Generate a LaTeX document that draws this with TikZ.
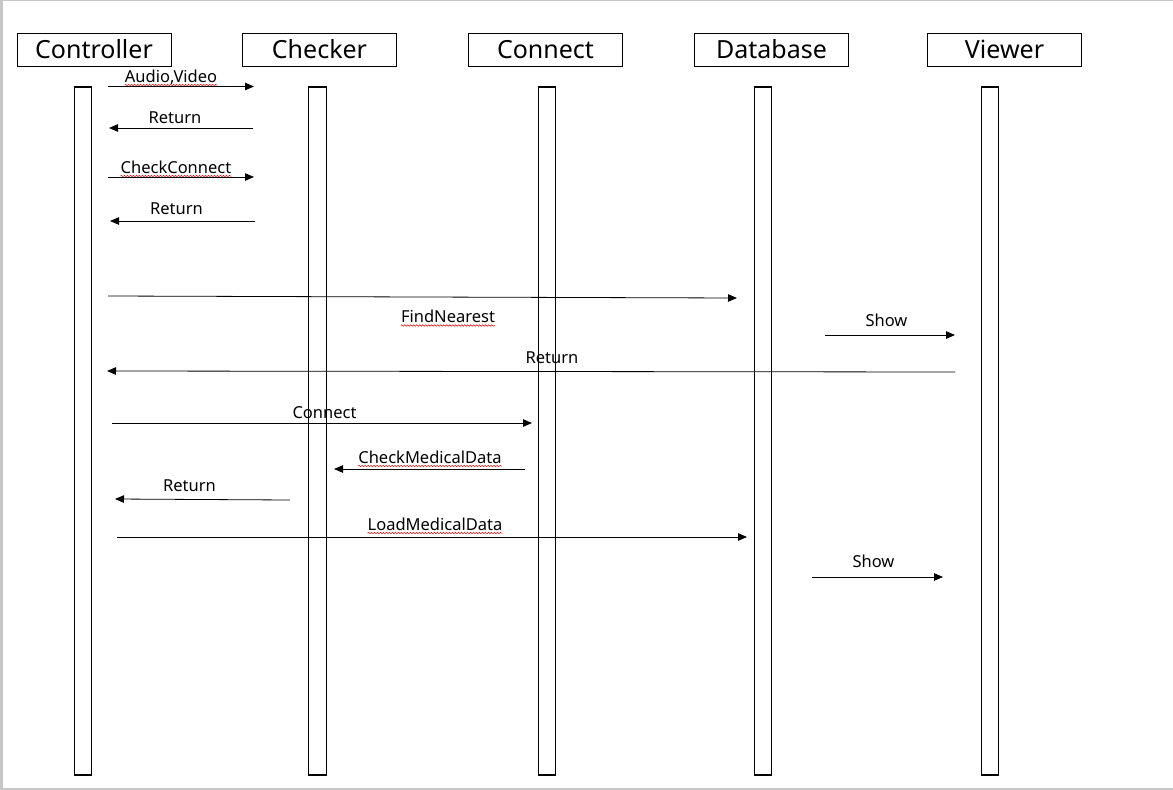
\documentclass[tikz,border=0pt]{standalone}
\usepackage{fontspec}
\setmainfont{Noto Sans}
\usetikzlibrary{arrows.meta,decorations.pathmorphing}
\tikzset{
  x=1pt,y=-1pt,
  head/.style={draw,line width=0.8pt,minimum width=154pt,minimum height=33pt,inner sep=0pt,font=\fontsize{25}{27}\selectfont},
  life/.style={draw,line width=1.1pt,minimum width=17.5pt,minimum height=688pt,inner sep=0pt},
  msg/.style={line width=0.8pt,-{Triangle[length=9pt,width=7.5pt]}},
  lbl/.style={anchor=base,inner sep=0pt,font=\fontsize{16.5}{18}\selectfont},
  spell/.style={red!85!black,line width=0.5pt,decorate,decoration={snake,amplitude=0.7pt,segment length=3pt}},
  frame/.style={draw=gray!45}
}
\newcommand{\wavy}[1]{\draw[spell] ([yshift=-3pt]#1.base west) -- ([yshift=-3pt]#1.base east);}
\begin{document}
\begin{tikzpicture}
\useasboundingbox (0,0) rectangle (1173,790);
\fill[white] (0,0) rectangle (1173,790);
\draw[frame,line width=2.5pt] (1.5,0) -- (1.5,790);
\draw[frame,line width=1.2pt] (0,0.6) -- (1173,0.6);
\draw[frame,line width=2pt] (0,788.5) -- (1173,788.5);

% headers
\node[head] (hctl) at (94,49.5) {Controller};
\node[head] (hchk) at (319.5,49.5) {Checker};
\node[head] (hcon) at (545.5,49.5) {Connect};
\node[head] (hdb)  at (771.5,49.5) {Database};
\node[head] (hview) at (1004.5,49.5) {Viewer};

% lifelines
\node[life] (lctl) at (83,431) {};
\node[life] (lchk) at (317.5,431) {};
\node[life] (lcon) at (547,431) {};
\node[life] (ldb)  at (763,431) {};
\node[life] (lview) at (990,431) {};

% message end points
\coordinate (a1) at (108,86.5);  \coordinate (b1) at (254,86.5);
\coordinate (a2) at (253,128);   \coordinate (b2) at (109,128);
\coordinate (a3) at (108,177);   \coordinate (b3) at (254,177);
\coordinate (a4) at (255,221);   \coordinate (b4) at (110,221);
\coordinate (a5) at (108,296);   \coordinate (b5) at (737,298);
\coordinate (a6) at (825,335);   \coordinate (b6) at (955,335);
\coordinate (a7) at (955,372);   \coordinate (b7) at (107,371);
\coordinate (a8) at (112,423);   \coordinate (b8) at (532,423);
\coordinate (a9) at (525,469);   \coordinate (b9) at (334,469);
\coordinate (a10) at (290,500);  \coordinate (b10) at (115,499);
\coordinate (a11) at (117,537);  \coordinate (b11) at (747,537);
\coordinate (a12) at (812,577);  \coordinate (b12) at (943,577);

\draw[msg] (a1) -- (b1);
\draw[msg] (a2) -- (b2);
\draw[msg] (a3) -- (b3);
\draw[msg] (a4) -- (b4);
\draw[msg] (a5) -- (b5);
\draw[msg] (a6) -- (b6);
\draw[msg] (a7) -- (b7);
\draw[msg] (a8) -- (b8);
\draw[msg] (a9) -- (b9);
\draw[msg] (a10) -- (b10);
\draw[msg] (a11) -- (b11);
\draw[msg] (a12) -- (b12);

% labels
\node[lbl] (t1) at (171,82) {Audio,Video};
\node[lbl] (t2) at (175,123) {Return};
\node[lbl] (t3) at (176,173) {CheckConnect};
\node[lbl] (t4) at (176.5,214) {Return};
\node[lbl] (t5) at (448,322.5) {FindNearest};
\node[lbl] (t6) at (886.5,326) {Show};
\node[lbl] (t7) at (552,363) {Return};
\node[lbl] (t8) at (324.5,418) {Connect};
\node[lbl] (t9) at (430,463) {CheckMedicalData};
\node[lbl] (t10) at (189.5,491) {Return};
\node[lbl] (t11) at (435,530) {LoadMedicalData};
\node[lbl] (t12) at (873.5,567) {Show};

\wavy{t1}
\wavy{t3}
\wavy{t5}
\wavy{t9}
\wavy{t11}
\end{tikzpicture}
\end{document}
